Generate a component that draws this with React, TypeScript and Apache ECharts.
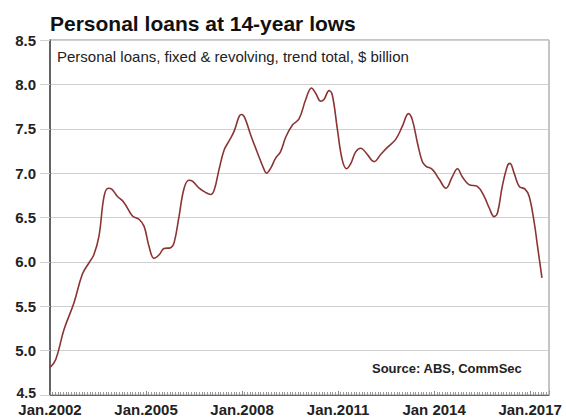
import React, { useEffect, useRef } from "react";
import * as echarts from "echarts";

const chartTitle = "Personal loans at 14-year lows";
const subTitle = "Personal loans, fixed & revolving, trend total, $ billion";
const sourceText = "Source: ABS, CommSec";

// decimal year positions
const years = [
  2002.0, 2002.18, 2002.44, 2002.75, 2003.01, 2003.22, 2003.37, 2003.53, 2003.69, 2003.82,
  2003.93, 2004.1, 2004.31, 2004.57, 2004.78, 2004.94, 2005.09, 2005.25, 2005.41, 2005.56,
  2005.77, 2005.88, 2006.03, 2006.19, 2006.34, 2006.45, 2006.66, 2006.87, 2007.02, 2007.13,
  2007.28, 2007.44, 2007.59, 2007.75, 2007.91, 2007.99, 2008.09, 2008.27, 2008.48, 2008.69,
  2008.76, 2008.9, 2009.05, 2009.2, 2009.37, 2009.57, 2009.78, 2009.99, 2010.17, 2010.3,
  2010.46, 2010.56, 2010.72, 2010.82, 2010.98, 2011.13, 2011.27, 2011.4, 2011.55, 2011.71,
  2011.87, 2012.13, 2012.33, 2012.54, 2012.8, 2013.01, 2013.2, 2013.32, 2013.48, 2013.63,
  2013.74, 2013.95, 2014.16, 2014.37, 2014.57, 2014.73, 2014.88, 2015.09, 2015.35, 2015.56,
  2015.72, 2015.875, 2015.98, 2016.13, 2016.29, 2016.37, 2016.5, 2016.66, 2016.84, 2016.97,
  2017.13, 2017.23, 2017.37,
];

const loans = [
  4.81, 4.9, 5.24, 5.54, 5.86, 5.99, 6.08, 6.29, 6.74, 6.83,
  6.82, 6.74, 6.67, 6.52, 6.48, 6.4, 6.18, 6.04, 6.08, 6.15,
  6.16, 6.22, 6.51, 6.83, 6.92, 6.91, 6.83, 6.78, 6.76, 6.81,
  7.04, 7.26, 7.36, 7.47, 7.64, 7.66, 7.62, 7.43, 7.23, 7.04,
  7.0, 7.06, 7.17, 7.24, 7.41, 7.54, 7.61, 7.83, 7.96, 7.9,
  7.81, 7.83, 7.93, 7.88, 7.49, 7.15, 7.05, 7.11, 7.24, 7.28,
  7.23, 7.13, 7.21, 7.29, 7.38, 7.53, 7.67, 7.6, 7.34, 7.13,
  7.08, 7.04, 6.93, 6.83, 6.96, 7.05, 6.96, 6.87, 6.85, 6.74,
  6.61, 6.51, 6.55, 6.85, 7.08, 7.11, 7.0, 6.85, 6.82, 6.74,
  6.44, 6.18, 5.82,
];

const xTickYears = [2002, 2005, 2008, 2011, 2014, 2017];
const xTickLabels = ["Jan.2002", "Jan.2005", "Jan.2008", "Jan.2011", "Jan 2014", "Jan.2017"];

const FONT = "Arial, 'Liberation Sans', sans-serif";

export default function App() {
  const ref = useRef<HTMLDivElement>(null);
  useEffect(() => {
    document.body.style.margin = "0";
    if (!ref.current) return;
    const chart = echarts.init(ref.current, undefined, { renderer: "svg" });
    const data = years.map((y, i) => [y, loans[i]]);
    chart.setOption({
      animation: false,
      backgroundColor: "#ffffff",
      textStyle: { fontFamily: FONT },
      title: [
        {
          text: chartTitle,
          left: 50,
          top: 13,
          padding: 0,
          textStyle: { fontSize: 21, fontWeight: "bold", color: "#111", fontFamily: FONT },
        },
        {
          text: subTitle,
          left: 57,
          top: 49,
          padding: 0,
          textStyle: { fontSize: 15, fontWeight: "normal", color: "#222", fontFamily: FONT },
        },
        {
          text: sourceText,
          left: 372,
          top: 362,
          padding: 0,
          textStyle: { fontSize: 13, fontWeight: "bold", color: "#222", fontFamily: FONT },
        },
      ],
      grid: {
        left: 50,
        right: 17,
        top: 40,
        bottom: 21,
        show: true,
        borderColor: "#8a8a8a",
        borderWidth: 1,
        containLabel: false,
      },
      xAxis: {
        type: "value",
        min: 2002,
        max: 2017.59,
        interval: 3,
        axisLine: { show: true, lineStyle: { color: "#666", width: 1 } },
        axisTick: { show: true, inside: true, length: 4, lineStyle: { color: "#888" } },
        minorTick: { show: true, splitNumber: 36, length: 3, lineStyle: { color: "#999" } },
        splitLine: { show: false },
        axisLabel: {
          showMaxLabel: false,
          margin: 8,
          fontSize: 15,
          lineHeight: 13,
          fontWeight: "bold",
          color: "#222",
          fontFamily: FONT,
          formatter: (v: number) => {
            const idx = xTickYears.indexOf(Math.round(v * 100) / 100);
            return idx >= 0 ? xTickLabels[idx] : "";
          },
        },
      },
      yAxis: {
        type: "value",
        min: 4.5,
        max: 8.5,
        interval: 0.5,
        axisLine: { show: true, lineStyle: { color: "#444", width: 1.5 } },
        axisTick: { show: true, inside: false, length: 10, lineStyle: { color: "#d0d0d0" } },
        splitLine: { show: true, lineStyle: { color: "#d0d0d0", width: 1 } },
        axisLabel: {
          margin: 14,
          fontSize: 15,
          lineHeight: 13,
          fontWeight: "bold",
          color: "#222",
          fontFamily: FONT,
          formatter: (v: number) => (v === 4.5 ? "{lo|4.5}" : v.toFixed(1)),
          rich: {
            lo: {
              fontSize: 14,
              lineHeight: 12,
              fontWeight: "bold",
              color: "#222",
              fontFamily: FONT,
              padding: [0, 0, 5, 0],
            },
          },
        },
      },
      series: [
        {
          type: "line",
          data,
          smooth: 0.4,
          showSymbol: false,
          lineStyle: { color: "#8b3434", width: 1.6 },
        },
      ],
    });
    return () => chart.dispose();
  }, []);
  return <div ref={ref} style={{ width: 566, height: 417 }} />;
}
